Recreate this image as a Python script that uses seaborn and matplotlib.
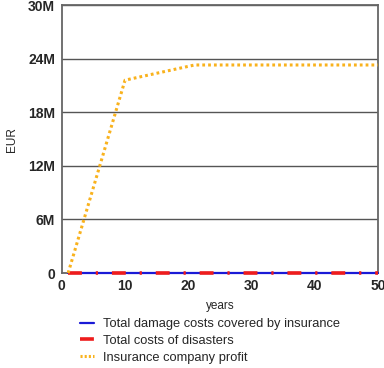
import matplotlib
matplotlib.use("Agg")
import matplotlib.pyplot as plt
import seaborn as sns
import pandas as pd

years = [1, 10, 21, 30, 40, 50]
damage_covered = [0, 0, 0, 0, 0, 0]
disaster_costs = [0, 0, 0, 0, 0, 0]
company_profit = [0, 21.6e6, 23.3e6, 23.3e6, 23.3e6, 23.3e6]

y_ticks = [0, 6e6, 12e6, 18e6, 24e6, 30e6]
y_labels = ["0", "6M", "12M", "18M", "24M", "30M"]
x_ticks = [0, 10, 20, 30, 40, 50]

sns.set_style("white")
plt.rcParams["font.family"] = ["Liberation Sans", "DejaVu Sans"]
plt.rcParams["lines.scale_dashes"] = False

fig = plt.figure(figsize=(3.84, 3.68), dpi=100)
ax = fig.add_axes([0.161, 0.258, 0.823, 0.728])

df = pd.DataFrame({"years": years, "covered": damage_covered,
                   "disasters": disaster_costs, "profit": company_profit})

sns.lineplot(data=df, x="years", y="covered", ax=ax, color="#1a1ad6", linewidth=1.6,
             label="Total damage costs covered by insurance", clip_on=False, zorder=5)
sns.lineplot(data=df, x="years", y="disasters", ax=ax, color="#ee1c1c", linewidth=2.6,
             label="Total costs of disasters", clip_on=False, zorder=6)
ax.lines[-1].set_dashes([10, 10, 1.6, 10])
sns.lineplot(data=df, x="years", y="profit", ax=ax, color="#f9b21d", linewidth=2.2,
             label="Insurance company profit", clip_on=False, zorder=7)
ax.lines[-1].set_dashes([2, 2.2])
ax.lines[-1].set_solid_capstyle("butt")

ax.set_xlim(0, 50)
ax.set_ylim(0, 30e6)
ax.set_xticks(x_ticks)
ax.set_yticks(y_ticks)
ax.set_yticklabels(y_labels)
for lab in ax.get_xticklabels() + ax.get_yticklabels():
    lab.set_fontweight("bold")
    lab.set_fontsize(10)
ax.tick_params(axis="y", length=0, pad=5)
ax.tick_params(axis="x", length=0, pad=4)
ax.yaxis.grid(True, color="#555555", linewidth=1)
ax.set_axisbelow(True)
for s in ax.spines.values():
    s.set_color("#666666")
    s.set_linewidth(1.3)
ax.set_xlabel("years", fontsize=8.5, labelpad=5)
ax.set_ylabel("EUR", fontsize=8.5, labelpad=7)

handles, labels = ax.get_legend_handles_labels()
leg = ax.legend(handles, labels, loc="upper left", bbox_to_anchor=(0.04, -0.15),
                frameon=False, fontsize=9.3, handlelength=1.1, handletextpad=0.7,
                labelspacing=0.35, borderaxespad=0)
leg.legend_handles[2].set_dashes([1.5, 1.5])

fig.savefig("out.png", dpi=100)
